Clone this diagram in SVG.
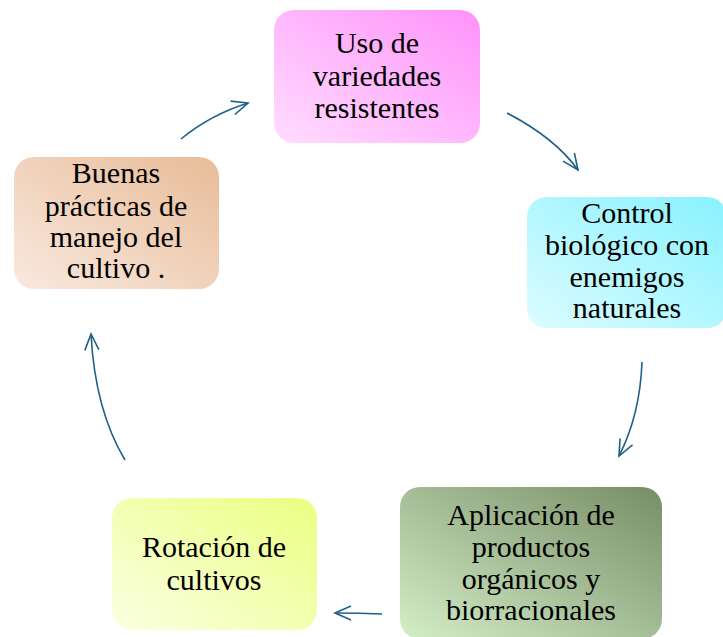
<svg xmlns="http://www.w3.org/2000/svg" width="723" height="637" viewBox="0 0 723 637">
<defs>
<linearGradient id="g1" x1="0" y1="1" x2="1" y2="0"><stop offset="0" stop-color="#FFDDFF"/><stop offset="1" stop-color="#FF92FA"/></linearGradient>
<linearGradient id="g2" x1="0" y1="1" x2="1" y2="0"><stop offset="0" stop-color="#DCFCFF"/><stop offset="1" stop-color="#88F2FF"/></linearGradient>
<linearGradient id="g3" x1="0" y1="1" x2="1" y2="0"><stop offset="0" stop-color="#D4EEC8"/><stop offset="1" stop-color="#778D66"/></linearGradient>
<linearGradient id="g4" x1="0" y1="1" x2="1" y2="0"><stop offset="0" stop-color="#FBFFE3"/><stop offset="1" stop-color="#EBFF80"/></linearGradient>
<linearGradient id="g5" x1="0" y1="1" x2="1" y2="0"><stop offset="0" stop-color="#F9E9DF"/><stop offset="1" stop-color="#E8BC98"/></linearGradient>
<marker id="ah" viewBox="0 0 20 20" refX="18" refY="10" markerWidth="20" markerHeight="20" markerUnits="userSpaceOnUse" orient="auto">
<path d="M2,3 L18,10 L2,17" fill="none" stroke="#1F6088" stroke-width="1.6"/>
</marker>
<style>
text{font-family:"Liberation Serif","Times New Roman",serif;font-size:30px;fill:#000;text-anchor:middle}
.c{fill:none;stroke:#1F6088;stroke-width:1.6;marker-end:url(#ah)}
</style>
</defs>
<g id="connectors">
<path class="c" d="M181,139 Q210,115 248,103"/>
<path class="c" d="M507,113 Q555,138 578,170"/>
<path class="c" d="M642,362 Q640,415 619,456"/>
<path class="c" d="M382,614 Q360,613 335,613"/>
<path class="c" d="M125,460 Q95,410 91,334"/>
</g>
<g id="n1">
<rect x="274" y="10" width="206" height="133" rx="20" fill="url(#g1)"/>
<text x="377" y="53">Uso de</text>
<text x="377" y="86">variedades</text>
<text x="377" y="118">resistentes</text>
</g>
<g id="n2">
<rect x="527" y="197" width="200" height="131" rx="20" fill="url(#g2)"/>
<text x="627" y="223">Control</text>
<text x="627" y="255">biológico con</text>
<text x="627" y="287">enemigos</text>
<text x="627" y="318">naturales</text>
</g>
<g id="n3">
<rect x="400" y="487" width="262" height="152" rx="20" fill="url(#g3)"/>
<text x="531" y="525">Aplicación de</text>
<text x="531" y="557">productos</text>
<text x="531" y="589">orgánicos y</text>
<text x="531" y="620">biorracionales</text>
</g>
<g id="n4">
<rect x="112" y="498" width="205" height="132" rx="20" fill="url(#g4)"/>
<text x="214" y="557">Rotación de</text>
<text x="214" y="590">cultivos</text>
</g>
<g id="n5">
<rect x="14" y="157" width="205" height="132" rx="20" fill="url(#g5)"/>
<text x="116" y="183">Buenas</text>
<text x="116" y="216">prácticas de</text>
<text x="116" y="247">manejo del</text>
<text x="116" y="278">cultivo .</text>
</g>
</svg>
